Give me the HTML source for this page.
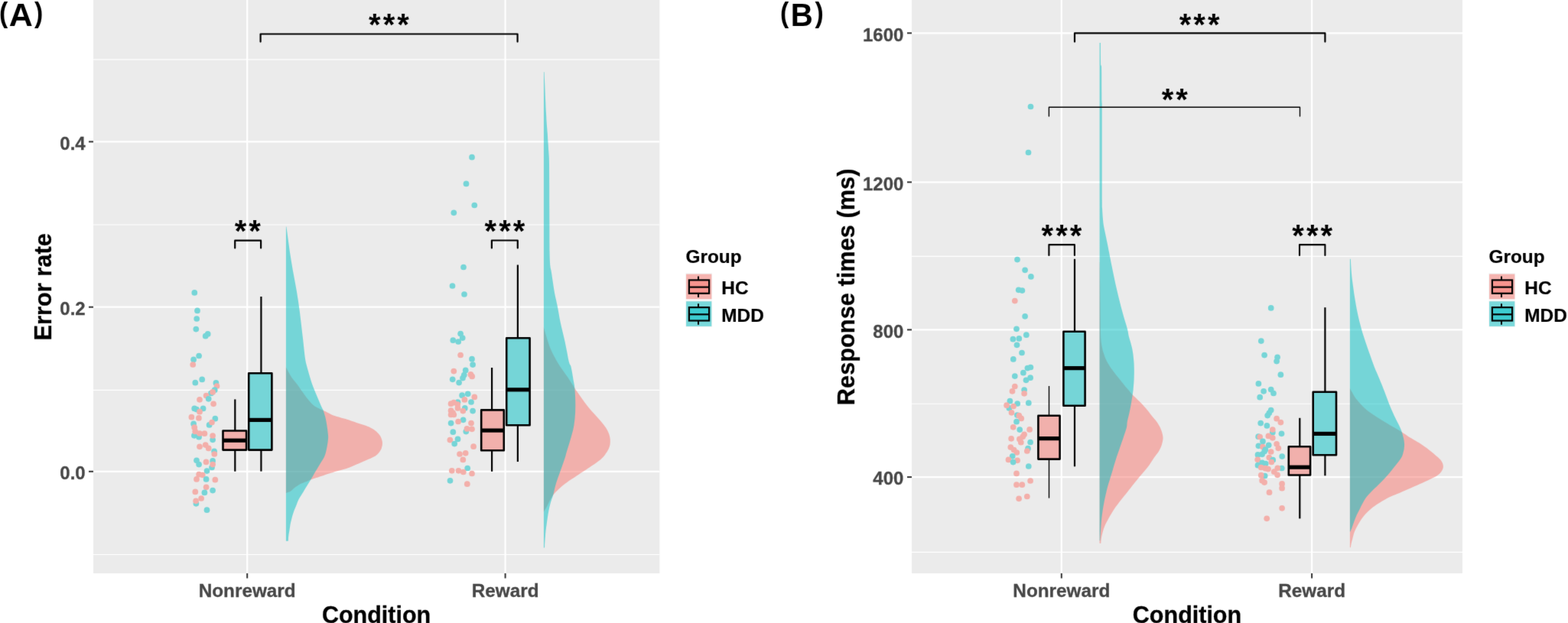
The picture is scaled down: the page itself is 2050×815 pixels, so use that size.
<!DOCTYPE html>
<html lang="en">
<head>
<meta charset="utf-8">
<title>Error rate and response times by condition and group</title>
<style>
html,body{margin:0;padding:0;background:#fff;}
body{width:2050px;height:815px;overflow:hidden;}
svg{display:block;position:absolute;left:0;top:0;}
text{font-family:"Liberation Sans",Arial,Helvetica,sans-serif;font-weight:700;}
.ax{font-size:24px;fill:#474747;stroke:#474747;stroke-width:0.3px;}
.axx{font-size:24.3px;fill:#474747;stroke:#474747;stroke-width:0.3px;}
.tt{font-size:30.5px;fill:#000;stroke:#000;stroke-width:0.3px;}
.tr{font-size:30.8px;fill:#000;stroke:#000;stroke-width:0.3px;}
.lg{font-size:24.4px;fill:#000;stroke:#000;stroke-width:0.2px;}
.st{font-size:40px;font-weight:700;fill:#000;}
.pl{font-size:40px;fill:#000;}
</style>
</head>
<body>
<svg width="2050" height="815" viewBox="0 0 2050 815">
<defs><filter id="soft" filterUnits="userSpaceOnUse" x="-20" y="-20" width="2090" height="855" color-interpolation-filters="sRGB"><feConvolveMatrix order="3" kernelMatrix="0.0064 0.0672 0.0064 0.0672 0.7056 0.0672 0.0064 0.0672 0.0064" edgeMode="duplicate" preserveAlpha="true"/></filter></defs>
<rect x="-20" y="-20" width="2090" height="855" fill="#fff"/>
<g filter="url(#soft)">
<rect x="-20" y="-20" width="2090" height="855" fill="#fff"/>
<rect x="122.00" y="-6" width="740.40" height="756" fill="#EBEBEB"/><line x1="122.00" y1="77.90" x2="862.40" y2="77.90" stroke="#fff" stroke-width="1.1"/><line x1="122.00" y1="294.00" x2="862.40" y2="294.00" stroke="#fff" stroke-width="1.1"/><line x1="122.00" y1="510.40" x2="862.40" y2="510.40" stroke="#fff" stroke-width="1.1"/><line x1="122.00" y1="725.50" x2="862.40" y2="725.50" stroke="#fff" stroke-width="1.1"/><line x1="122.00" y1="185.40" x2="862.40" y2="185.40" stroke="#fff" stroke-width="2.2"/><line x1="122.00" y1="401.70" x2="862.40" y2="401.70" stroke="#fff" stroke-width="2.2"/><line x1="122.00" y1="616.80" x2="862.40" y2="616.80" stroke="#fff" stroke-width="2.2"/><line x1="323.20" y1="-6" x2="323.20" y2="750" stroke="#fff" stroke-width="2.2"/><line x1="660.60" y1="-6" x2="660.60" y2="750" stroke="#fff" stroke-width="2.2"/><line x1="116.00" y1="185.40" x2="122.00" y2="185.40" stroke="#333" stroke-width="2"/><line x1="116.00" y1="401.70" x2="122.00" y2="401.70" stroke="#333" stroke-width="2"/><line x1="116.00" y1="616.80" x2="122.00" y2="616.80" stroke="#333" stroke-width="2"/><line x1="323.20" y1="750" x2="323.20" y2="756.5" stroke="#333" stroke-width="2"/><line x1="660.60" y1="750" x2="660.60" y2="756.5" stroke="#333" stroke-width="2"/><text x="111.70" y="195.60" class="ax" text-anchor="end">0.4</text><text x="111.70" y="411.90" class="ax" text-anchor="end">0.2</text><text x="111.70" y="627.00" class="ax" text-anchor="end">0.0</text><text x="323.20" y="781.30" class="axx" text-anchor="middle">Nonreward</text><text x="660.60" y="781.30" class="axx" text-anchor="middle">Reward</text>
<circle cx="254.3" cy="382.9" r="3.85" fill="#76D5D7"/><circle cx="258.0" cy="406.4" r="3.85" fill="#76D5D7"/><circle cx="257.2" cy="417.0" r="3.85" fill="#76D5D7"/><circle cx="256.3" cy="430.6" r="3.85" fill="#76D5D7"/><circle cx="271.7" cy="436.9" r="3.85" fill="#76D5D7"/><circle cx="268.7" cy="439.7" r="3.85" fill="#76D5D7"/><circle cx="260.1" cy="465.5" r="3.85" fill="#76D5D7"/><circle cx="253.1" cy="470.4" r="3.85" fill="#76D5D7"/><circle cx="252.2" cy="477.0" r="3.85" fill="#F3AFAA"/><circle cx="264.2" cy="496.4" r="3.85" fill="#76D5D7"/><circle cx="255.3" cy="500.7" r="3.85" fill="#76D5D7"/><circle cx="282.4" cy="500.9" r="3.85" fill="#76D5D7"/><circle cx="283.5" cy="505.0" r="3.85" fill="#F3AFAA"/><circle cx="280.7" cy="510.2" r="3.85" fill="#76D5D7"/><circle cx="276.0" cy="514.4" r="3.85" fill="#76D5D7"/><circle cx="278.1" cy="512.9" r="3.85" fill="#F3AFAA"/><circle cx="269.6" cy="517.6" r="3.85" fill="#F3AFAA"/><circle cx="272.7" cy="521.8" r="3.85" fill="#76D5D7"/><circle cx="261.0" cy="522.8" r="3.85" fill="#F3AFAA"/><circle cx="279.1" cy="528.3" r="3.85" fill="#F3AFAA"/><circle cx="254.2" cy="534.4" r="3.85" fill="#76D5D7"/><circle cx="257.0" cy="535.6" r="3.85" fill="#76D5D7"/><circle cx="265.6" cy="534.4" r="3.85" fill="#76D5D7"/><circle cx="261.0" cy="538.7" r="3.85" fill="#F3AFAA"/><circle cx="250.4" cy="545.7" r="3.85" fill="#F3AFAA"/><circle cx="259.9" cy="546.9" r="3.85" fill="#F3AFAA"/><circle cx="281.3" cy="547.7" r="3.85" fill="#76D5D7"/><circle cx="273.6" cy="555.9" r="3.85" fill="#76D5D7"/><circle cx="277.0" cy="552.5" r="3.85" fill="#F3AFAA"/><circle cx="253.1" cy="554.4" r="3.85" fill="#76D5D7"/><circle cx="254.2" cy="559.2" r="3.85" fill="#F3AFAA"/><circle cx="253.9" cy="569.8" r="3.85" fill="#76D5D7"/><circle cx="260.1" cy="571.7" r="3.85" fill="#76D5D7"/><circle cx="255.2" cy="564.4" r="3.85" fill="#F3AFAA"/><circle cx="261.0" cy="567.0" r="3.85" fill="#F3AFAA"/><circle cx="267.4" cy="567.2" r="3.85" fill="#F3AFAA"/><circle cx="278.1" cy="575.3" r="3.85" fill="#76D5D7"/><circle cx="278.1" cy="570.0" r="3.85" fill="#F3AFAA"/><circle cx="261.0" cy="584.3" r="3.85" fill="#F3AFAA"/><circle cx="268.7" cy="582.1" r="3.85" fill="#F3AFAA"/><circle cx="272.7" cy="586.4" r="3.85" fill="#F3AFAA"/><circle cx="280.1" cy="590.4" r="3.85" fill="#76D5D7"/><circle cx="280.3" cy="594.0" r="3.85" fill="#F3AFAA"/><circle cx="257.0" cy="602.3" r="3.85" fill="#76D5D7"/><circle cx="260.1" cy="607.6" r="3.85" fill="#76D5D7"/><circle cx="269.5" cy="604.4" r="3.85" fill="#F3AFAA"/><circle cx="278.1" cy="602.9" r="3.85" fill="#76D5D7"/><circle cx="277.0" cy="611.5" r="3.85" fill="#76D5D7"/><circle cx="278.1" cy="607.6" r="3.85" fill="#F3AFAA"/><circle cx="270.5" cy="616.1" r="3.85" fill="#76D5D7"/><circle cx="260.1" cy="620.7" r="3.85" fill="#F3AFAA"/><circle cx="264.7" cy="621.3" r="3.85" fill="#F3AFAA"/><circle cx="257.0" cy="626.9" r="3.85" fill="#F3AFAA"/><circle cx="269.6" cy="626.9" r="3.85" fill="#76D5D7"/><circle cx="281.3" cy="627.7" r="3.85" fill="#F3AFAA"/><circle cx="269.6" cy="637.3" r="3.85" fill="#F3AFAA"/><circle cx="278.1" cy="641.6" r="3.85" fill="#76D5D7"/><circle cx="255.3" cy="643.4" r="3.85" fill="#F3AFAA"/><circle cx="267.4" cy="644.4" r="3.85" fill="#76D5D7"/><circle cx="263.1" cy="652.0" r="3.85" fill="#F3AFAA"/><circle cx="256.4" cy="658.8" r="3.85" fill="#76D5D7"/><circle cx="256.1" cy="655.3" r="3.85" fill="#F3AFAA"/><circle cx="270.5" cy="667.2" r="3.85" fill="#76D5D7"/>
<circle cx="617.0" cy="205.7" r="3.85" fill="#76D5D7"/><circle cx="609.5" cy="240.4" r="3.85" fill="#76D5D7"/><circle cx="620.3" cy="268.5" r="3.85" fill="#76D5D7"/><circle cx="593.3" cy="278.3" r="3.85" fill="#76D5D7"/><circle cx="606.0" cy="349.5" r="3.85" fill="#76D5D7"/><circle cx="591.5" cy="374.0" r="3.85" fill="#76D5D7"/><circle cx="607.0" cy="385.0" r="3.85" fill="#76D5D7"/><circle cx="602.1" cy="436.6" r="3.85" fill="#76D5D7"/><circle cx="604.7" cy="442.1" r="3.85" fill="#76D5D7"/><circle cx="592.3" cy="445.2" r="3.85" fill="#76D5D7"/><circle cx="599.2" cy="447.0" r="3.85" fill="#76D5D7"/><circle cx="602.1" cy="464.5" r="3.85" fill="#F3AFAA"/><circle cx="617.0" cy="469.7" r="3.85" fill="#76D5D7"/><circle cx="618.1" cy="477.1" r="3.85" fill="#76D5D7"/><circle cx="593.3" cy="485.6" r="3.85" fill="#F3AFAA"/><circle cx="608.7" cy="484.4" r="3.85" fill="#76D5D7"/><circle cx="606.8" cy="490.6" r="3.85" fill="#76D5D7"/><circle cx="605.0" cy="494.6" r="3.85" fill="#76D5D7"/><circle cx="615.4" cy="489.9" r="3.85" fill="#F3AFAA"/><circle cx="617.2" cy="492.4" r="3.85" fill="#F3AFAA"/><circle cx="591.7" cy="496.3" r="3.85" fill="#76D5D7"/><circle cx="600.1" cy="500.6" r="3.85" fill="#76D5D7"/><circle cx="604.1" cy="517.2" r="3.85" fill="#76D5D7"/><circle cx="611.7" cy="515.3" r="3.85" fill="#76D5D7"/><circle cx="620.3" cy="519.4" r="3.85" fill="#F3AFAA"/><circle cx="607.4" cy="522.9" r="3.85" fill="#F3AFAA"/><circle cx="616.0" cy="526.0" r="3.85" fill="#76D5D7"/><circle cx="598.5" cy="526.2" r="3.85" fill="#76D5D7"/><circle cx="589.6" cy="528.2" r="3.85" fill="#F3AFAA"/><circle cx="593.3" cy="526.6" r="3.85" fill="#F3AFAA"/><circle cx="598.2" cy="529.0" r="3.85" fill="#F3AFAA"/><circle cx="607.8" cy="533.9" r="3.85" fill="#76D5D7"/><circle cx="598.5" cy="533.9" r="3.85" fill="#F3AFAA"/><circle cx="605.3" cy="537.6" r="3.85" fill="#F3AFAA"/><circle cx="618.1" cy="537.6" r="3.85" fill="#76D5D7"/><circle cx="589.6" cy="537.2" r="3.85" fill="#F3AFAA"/><circle cx="592.1" cy="540.1" r="3.85" fill="#F3AFAA"/><circle cx="589.6" cy="542.5" r="3.85" fill="#F3AFAA"/><circle cx="593.3" cy="542.5" r="3.85" fill="#F3AFAA"/><circle cx="605.6" cy="549.3" r="3.85" fill="#76D5D7"/><circle cx="599.1" cy="551.5" r="3.85" fill="#F3AFAA"/><circle cx="589.6" cy="553.6" r="3.85" fill="#76D5D7"/><circle cx="616.0" cy="553.6" r="3.85" fill="#F3AFAA"/><circle cx="609.3" cy="564.6" r="3.85" fill="#76D5D7"/><circle cx="610.5" cy="560.9" r="3.85" fill="#F3AFAA"/><circle cx="617.0" cy="561.3" r="3.85" fill="#F3AFAA"/><circle cx="592.3" cy="565.2" r="3.85" fill="#76D5D7"/><circle cx="598.5" cy="574.4" r="3.85" fill="#76D5D7"/><circle cx="588.4" cy="575.6" r="3.85" fill="#F3AFAA"/><circle cx="594.2" cy="580.6" r="3.85" fill="#76D5D7"/><circle cx="619.1" cy="584.2" r="3.85" fill="#F3AFAA"/><circle cx="601.0" cy="594.0" r="3.85" fill="#F3AFAA"/><circle cx="608.7" cy="592.8" r="3.85" fill="#F3AFAA"/><circle cx="605.3" cy="601.4" r="3.85" fill="#F3AFAA"/><circle cx="611.2" cy="612.5" r="3.85" fill="#76D5D7"/><circle cx="590.8" cy="615.8" r="3.85" fill="#F3AFAA"/><circle cx="599.5" cy="615.8" r="3.85" fill="#F3AFAA"/><circle cx="605.8" cy="617.5" r="3.85" fill="#F3AFAA"/><circle cx="617.0" cy="619.5" r="3.85" fill="#F3AFAA"/><circle cx="588.5" cy="628.8" r="3.85" fill="#76D5D7"/><circle cx="610.8" cy="633.2" r="3.85" fill="#F3AFAA"/>
<line x1="307.30" y1="522.40" x2="307.30" y2="563.50" stroke="#000" stroke-width="2.20"/><line x1="307.30" y1="588.60" x2="307.30" y2="616.70" stroke="#000" stroke-width="2.20"/><rect x="291.50" y="563.50" width="30.60" height="25.10" fill="#EBEBEB" stroke="none"/><rect x="291.50" y="563.50" width="30.60" height="25.10" fill="#F8766D" fill-opacity="0.5" stroke="#000" stroke-width="2.60" stroke-linejoin="round"/><line x1="291.50" y1="576.20" x2="322.10" y2="576.20" stroke="#000" stroke-width="5.20"/>
<line x1="341.40" y1="388.00" x2="341.40" y2="488.20" stroke="#000" stroke-width="2.20"/><line x1="341.40" y1="588.60" x2="341.40" y2="616.60" stroke="#000" stroke-width="2.20"/><rect x="325.20" y="488.20" width="30.20" height="100.40" fill="#EBEBEB" stroke="none"/><rect x="325.20" y="488.20" width="30.20" height="100.40" fill="#00BFC4" fill-opacity="0.5" stroke="#000" stroke-width="2.60" stroke-linejoin="round"/><line x1="325.20" y1="549.40" x2="355.40" y2="549.40" stroke="#000" stroke-width="5.20"/>
<line x1="643.10" y1="481.00" x2="643.10" y2="536.40" stroke="#000" stroke-width="2.20"/><line x1="643.10" y1="589.30" x2="643.10" y2="616.80" stroke="#000" stroke-width="2.20"/><rect x="629.20" y="536.40" width="29.60" height="52.90" fill="#EBEBEB" stroke="none"/><rect x="629.20" y="536.40" width="29.60" height="52.90" fill="#F8766D" fill-opacity="0.5" stroke="#000" stroke-width="2.60" stroke-linejoin="round"/><line x1="629.20" y1="563.10" x2="658.80" y2="563.10" stroke="#000" stroke-width="5.20"/>
<line x1="676.90" y1="346.50" x2="676.90" y2="442.20" stroke="#000" stroke-width="2.20"/><line x1="676.90" y1="556.20" x2="676.90" y2="604.00" stroke="#000" stroke-width="2.20"/><rect x="662.20" y="442.20" width="30.40" height="114.00" fill="#EBEBEB" stroke="none"/><rect x="662.20" y="442.20" width="30.40" height="114.00" fill="#00BFC4" fill-opacity="0.5" stroke="#000" stroke-width="2.60" stroke-linejoin="round"/><line x1="662.20" y1="509.80" x2="692.60" y2="509.80" stroke="#000" stroke-width="5.20"/>
<path d="M373.9 480.4L373.9 480.4L374.4 481.4L375.1 482.7L375.9 484.3L376.8 486.0L377.8 487.8L378.9 489.8L380.2 491.9L381.5 493.9L383.0 495.9L384.6 497.9L386.3 499.9L387.9 501.9L389.4 503.9L390.8 505.9L392.1 507.9L393.5 509.9L394.9 511.9L396.3 513.8L397.6 515.8L399.1 517.8L400.7 519.9L402.4 522.0L404.0 524.0L405.5 525.8L406.8 527.3L408.0 528.5L409.1 529.6L410.3 530.6L411.6 531.5L412.9 532.3L414.3 533.0L415.8 533.8L417.4 534.6L419.2 535.4L421.0 536.2L422.7 537.0L424.4 537.8L426.1 538.6L427.8 539.4L429.4 540.2L431.0 541.0L432.5 541.9L434.1 542.7L435.8 543.4L437.7 544.1L439.7 544.7L441.7 545.2L443.7 545.8L445.7 546.4L447.6 546.9L449.6 547.5L451.7 548.1L454.0 548.8L456.4 549.6L458.9 550.5L461.3 551.3L463.7 552.1L466.1 552.9L468.5 553.7L470.9 554.5L473.3 555.3L475.7 556.0L478.1 556.8L480.4 557.7L482.6 558.6L484.7 559.7L486.7 560.7L488.4 561.7L489.8 562.7L491.0 563.7L492.1 564.6L493.2 565.7L494.3 566.8L495.4 568.1L496.4 569.3L497.2 570.5L497.9 571.7L498.4 572.9L498.8 574.1L499.2 575.3L499.5 576.5L499.8 577.6L499.9 578.8L500.0 580.0L499.9 581.2L499.8 582.4L499.5 583.6L499.2 584.8L498.9 586.0L498.6 587.1L498.0 588.3L497.2 589.6L496.1 591.2L494.7 592.9L493.0 594.7L490.8 596.4L487.8 598.1L484.3 599.7L480.6 601.3L477.2 602.8L474.3 604.1L471.5 605.2L468.8 606.4L466.1 607.5L463.3 608.7L460.5 610.0L457.7 611.2L454.9 612.3L452.1 613.2L449.3 614.0L446.5 614.7L443.7 615.5L440.9 616.3L438.0 617.1L435.3 617.9L432.6 618.7L430.1 619.5L427.7 620.3L425.4 621.1L423.0 621.9L420.5 622.7L418.0 623.5L415.6 624.4L413.4 625.1L411.4 625.8L409.6 626.3L407.9 626.9L406.3 627.5L404.9 628.1L403.6 628.7L402.2 629.2L400.7 629.9L398.8 630.6L396.8 631.4L394.7 632.2L392.7 633.1L390.8 634.2L388.9 635.4L387.2 636.6L385.5 637.8L384.0 639.0L382.7 640.3L381.4 641.6L380.0 642.6L378.4 643.4L376.7 644.1L375.1 644.6L374.0 645.0L373.9 645.0 Z" fill="#F8766D" fill-opacity="0.5"/>
<path d="M373.9 296.4L374.4 296.4L375.5 304.4L377.0 315.7L378.8 328.7L380.8 341.5L382.9 353.9L385.3 366.8L387.7 380.0L389.8 393.0L391.7 406.5L393.4 420.4L394.9 433.5L396.2 444.6L397.1 453.0L397.8 459.5L398.4 464.9L399.1 470.0L400.0 474.7L401.0 478.6L402.0 482.2L403.1 486.0L404.2 490.0L405.4 494.0L406.6 497.9L407.9 501.9L409.4 505.9L410.9 509.8L412.5 513.8L414.2 517.8L416.0 522.1L417.9 526.6L419.7 530.7L421.1 533.8L421.8 535.3L422.1 535.6L422.3 535.8L422.7 537.0L423.5 539.4L424.4 542.5L425.4 546.1L426.2 549.7L426.9 553.6L427.6 557.9L428.2 562.1L428.6 565.7L428.9 568.4L429.1 570.6L429.1 572.7L428.9 575.3L428.5 578.7L427.9 582.5L427.2 586.3L426.5 589.6L425.9 592.1L425.3 594.2L424.6 596.1L423.8 598.0L422.7 600.0L421.5 602.0L420.2 604.0L419.0 606.0L417.8 608.0L416.6 610.0L415.4 611.9L414.2 613.9L413.0 615.9L411.7 618.0L410.6 620.1L409.5 621.9L408.7 623.4L408.0 624.6L407.3 625.8L406.3 627.5L404.9 629.8L403.2 632.5L401.5 635.3L399.9 637.8L398.6 640.0L397.4 641.9L396.3 643.9L395.1 645.8L393.9 647.8L392.6 649.8L391.4 651.8L390.3 653.8L389.4 655.8L388.6 657.8L387.9 659.8L387.1 661.8L386.3 663.8L385.4 665.8L384.6 667.7L383.9 669.7L383.2 671.7L382.6 673.7L382.0 675.7L381.5 677.7L381.0 679.7L380.5 681.7L380.0 683.7L379.6 685.7L379.3 687.7L379.0 689.7L378.7 691.7L378.4 693.7L378.1 695.7L377.7 697.8L377.4 699.8L377.2 701.6L377.0 703.4L376.9 705.1L376.9 706.6L376.8 707.7L373.9 707.7 Z" fill="#00BFC4" fill-opacity="0.5"/>
<path d="M710.9 428.2L710.9 428.2L711.4 430.2L712.2 433.0L713.2 436.4L714.2 439.8L715.3 443.4L716.5 447.3L717.8 451.3L719.3 455.3L721.1 459.3L723.1 463.4L725.2 467.3L727.0 470.7L728.6 473.5L730.0 475.8L731.3 477.9L732.7 480.0L734.1 482.1L735.5 484.1L736.9 486.0L738.3 488.0L739.7 489.9L741.0 491.8L742.4 493.7L743.9 496.0L745.6 498.7L747.5 501.7L749.4 504.8L751.4 507.9L753.5 511.0L755.7 514.1L757.9 517.2L759.8 519.9L761.4 522.2L762.7 524.1L764.0 525.9L765.4 527.8L766.9 529.8L768.5 531.8L770.1 533.8L771.8 535.8L773.5 537.8L775.4 539.8L777.2 541.8L779.0 543.8L780.8 545.8L782.6 547.8L784.4 549.8L786.1 551.8L787.7 553.8L789.3 555.8L790.8 557.7L792.2 559.7L793.4 561.7L794.5 563.7L795.4 565.7L796.2 567.7L796.8 569.7L797.3 571.7L797.6 573.7L797.8 575.7L797.8 577.7L797.7 579.7L797.5 581.7L797.0 583.7L796.3 585.7L795.5 587.7L794.5 589.6L793.3 591.6L791.9 593.6L790.4 595.7L788.7 597.7L786.9 599.6L784.9 601.4L782.7 603.1L780.4 604.8L778.1 606.4L775.8 608.0L773.4 609.6L771.0 611.2L768.6 612.8L766.2 614.4L763.8 615.9L761.4 617.5L759.0 619.1L756.6 620.7L754.2 622.3L751.8 623.9L749.4 625.5L747.0 627.1L744.6 628.6L742.3 630.2L739.9 631.9L737.5 633.8L735.0 635.8L732.5 637.9L730.3 639.9L728.3 641.9L726.4 643.8L724.7 645.8L723.1 647.8L721.7 649.8L720.5 651.8L719.4 653.8L718.3 655.8L717.3 657.9L716.3 659.9L715.3 662.0L714.4 663.8L713.4 665.5L712.4 667.1L711.5 668.4L710.9 669.4L710.9 669.4 Z" fill="#F8766D" fill-opacity="0.5"/>
<path d="M710.9 94.2L711.6 94.2L711.8 100.3L712.2 109.0L712.6 118.4L712.9 126.4L713.2 132.4L713.4 137.6L713.6 142.3L713.9 147.0L714.2 151.8L714.4 156.5L714.7 160.9L715.0 165.0L715.3 168.5L715.5 171.6L715.8 174.6L716.0 178.0L716.2 181.9L716.5 186.0L716.8 190.3L717.0 194.7L717.3 198.2L717.5 201.3L717.8 205.8L718.0 214.0L718.1 227.4L718.2 244.5L718.2 262.9L718.3 280.0L718.4 296.3L718.4 312.6L718.5 327.5L718.8 339.3L719.2 346.5L719.7 350.4L720.4 353.2L721.1 357.3L722.0 363.4L723.0 370.2L724.0 376.9L725.0 383.0L726.0 388.0L727.0 392.3L727.9 396.5L728.9 401.0L729.8 405.9L730.7 410.9L731.6 416.2L732.7 421.8L734.1 427.9L735.6 434.3L737.2 441.0L738.7 447.5L740.1 454.4L741.5 461.6L742.7 468.2L743.8 473.3L744.7 476.1L745.3 477.3L746.0 478.1L746.6 480.0L747.3 483.4L748.1 487.7L748.8 492.1L749.4 496.0L750.0 499.1L750.5 501.7L751.0 504.5L751.4 507.9L751.7 512.4L752.0 517.6L752.2 522.9L752.3 527.8L752.3 532.1L752.2 536.0L752.1 539.9L751.8 543.8L751.5 547.8L751.0 551.8L750.5 555.7L749.8 559.7L748.9 563.7L747.8 567.7L746.7 571.7L745.5 575.7L744.3 579.9L743.0 584.1L741.7 588.2L740.7 591.6L740.0 594.0L739.6 595.8L739.1 597.5L738.3 600.0L737.1 603.5L735.7 607.5L734.2 611.8L732.7 616.0L731.3 620.0L729.8 624.0L728.4 627.9L727.1 631.9L726.0 636.1L724.9 640.3L724.0 644.4L723.1 647.8L722.3 650.4L721.6 652.3L721.0 654.0L720.4 655.8L719.8 657.8L719.3 659.8L718.8 661.8L718.3 663.8L717.9 665.8L717.4 667.8L717.1 669.8L716.7 671.8L716.4 673.8L716.1 675.8L715.8 677.7L715.5 679.7L715.2 681.7L714.9 683.7L714.7 685.7L714.4 687.7L714.1 689.6L713.9 691.4L713.6 693.4L713.4 695.7L713.1 698.7L712.9 702.1L712.6 705.4L712.4 708.4L712.2 710.9L712.1 713.2L712.1 715.1L712.0 716.4L710.9 716.4 Z" fill="#00BFC4" fill-opacity="0.5"/>
<path d="M340.60 54.60V44.50H676.60V54.60" fill="none" stroke="#000" stroke-width="2.20" stroke-linejoin="round" stroke-linecap="round"/>
<text x="482.09 500.69 519.29" y="46.40" class="st">***</text>
<path d="M307.20 324.40V314.70H341.10V324.40" fill="none" stroke="#000" stroke-width="2.20" stroke-linejoin="round" stroke-linecap="round"/>
<text x="306.69 325.29" y="315.90" class="st">**</text>
<path d="M642.90 324.40V314.50H676.80V324.40" fill="none" stroke="#000" stroke-width="2.20" stroke-linejoin="round" stroke-linecap="round"/>
<text x="633.59 652.19 670.79" y="316.30" class="st">***</text>
<text class="tr" text-anchor="middle" transform="translate(66.9 375.4) rotate(-90) scale(1.0 1.02)">Error rate</text>
<text class="tt" text-anchor="middle" x="492.1" y="814.6">Condition</text>
<text x="896.50" y="343.6" class="lg">Group</text><rect x="896.40" y="357.40" width="34.6" height="34.6" fill="#F2F2F2"/><rect x="897.10" y="358.60" width="33.2" height="32.6" fill="#F8766D" fill-opacity="0.5"/><line x1="913.00" y1="361.60" x2="913.00" y2="389.00" stroke="#000" stroke-width="2"/><rect x="900.90" y="366.40" width="26.2" height="17.4" fill="#F2F2F2"/><rect x="900.90" y="366.40" width="26.2" height="17.4" fill="#F8766D" fill-opacity="0.75" stroke="#000" stroke-width="2.2"/><line x1="900.90" y1="375.60" x2="927.10" y2="375.60" stroke="#000" stroke-width="2.2"/><text x="943.30" y="385.40" class="lg">HC</text><rect x="896.40" y="393.10" width="34.6" height="34.6" fill="#F2F2F2"/><rect x="897.10" y="394.30" width="33.2" height="32.6" fill="#00BFC4" fill-opacity="0.5"/><line x1="913.00" y1="397.30" x2="913.00" y2="424.70" stroke="#000" stroke-width="2"/><rect x="900.90" y="402.10" width="26.2" height="17.4" fill="#F2F2F2"/><rect x="900.90" y="402.10" width="26.2" height="17.4" fill="#00BFC4" fill-opacity="0.75" stroke="#000" stroke-width="2.2"/><line x1="900.90" y1="411.30" x2="927.10" y2="411.30" stroke="#000" stroke-width="2.2"/><text x="943.30" y="420.50" class="lg">MDD</text>
<text class="pl"><tspan x="-1.09" y="29.11" font-size="37.26" textLength="11.25" lengthAdjust="spacingAndGlyphs">(</tspan><tspan x="11.72" y="33.80" font-size="41.90" textLength="31.10" lengthAdjust="spacingAndGlyphs">A</tspan><tspan x="45.00" y="29.11" font-size="37.26" textLength="11.25" lengthAdjust="spacingAndGlyphs">)</tspan></text>
<rect x="1192.00" y="-6" width="720.00" height="756" fill="#EBEBEB"/><line x1="1192.00" y1="335.40" x2="1912.00" y2="335.40" stroke="#fff" stroke-width="1.1"/><line x1="1192.00" y1="528.30" x2="1912.00" y2="528.30" stroke="#fff" stroke-width="1.1"/><line x1="1192.00" y1="722.40" x2="1912.00" y2="722.40" stroke="#fff" stroke-width="1.1"/><line x1="1192.00" y1="43.30" x2="1912.00" y2="43.30" stroke="#fff" stroke-width="2.2"/><line x1="1192.00" y1="238.30" x2="1912.00" y2="238.30" stroke="#fff" stroke-width="2.2"/><line x1="1192.00" y1="431.40" x2="1912.00" y2="431.40" stroke="#fff" stroke-width="2.2"/><line x1="1192.00" y1="624.10" x2="1912.00" y2="624.10" stroke="#fff" stroke-width="2.2"/><line x1="1387.80" y1="-6" x2="1387.80" y2="750" stroke="#fff" stroke-width="2.2"/><line x1="1715.10" y1="-6" x2="1715.10" y2="750" stroke="#fff" stroke-width="2.2"/><line x1="1186.00" y1="43.30" x2="1192.00" y2="43.30" stroke="#333" stroke-width="2"/><line x1="1186.00" y1="238.30" x2="1192.00" y2="238.30" stroke="#333" stroke-width="2"/><line x1="1186.00" y1="431.40" x2="1192.00" y2="431.40" stroke="#333" stroke-width="2"/><line x1="1186.00" y1="624.10" x2="1192.00" y2="624.10" stroke="#333" stroke-width="2"/><line x1="1387.80" y1="750" x2="1387.80" y2="756.5" stroke="#333" stroke-width="2"/><line x1="1715.10" y1="750" x2="1715.10" y2="756.5" stroke="#333" stroke-width="2"/><text x="1181.40" y="53.50" class="ax" text-anchor="end">1600</text><text x="1181.40" y="248.50" class="ax" text-anchor="end">1200</text><text x="1181.40" y="441.60" class="ax" text-anchor="end">800</text><text x="1181.40" y="634.30" class="ax" text-anchor="end">400</text><text x="1387.80" y="781.30" class="axx" text-anchor="middle">Nonreward</text><text x="1715.10" y="781.30" class="axx" text-anchor="middle">Reward</text>
<circle cx="1347.5" cy="139.5" r="3.85" fill="#76D5D7"/><circle cx="1344.5" cy="199.5" r="3.85" fill="#76D5D7"/><circle cx="1330.0" cy="339.6" r="3.85" fill="#76D5D7"/><circle cx="1340.1" cy="353.3" r="3.85" fill="#76D5D7"/><circle cx="1347.9" cy="361.9" r="3.85" fill="#76D5D7"/><circle cx="1331.7" cy="379.3" r="3.85" fill="#76D5D7"/><circle cx="1336.4" cy="380.1" r="3.85" fill="#76D5D7"/><circle cx="1326.8" cy="393.6" r="3.85" fill="#F3AFAA"/><circle cx="1340.1" cy="413.8" r="3.85" fill="#76D5D7"/><circle cx="1329.0" cy="430.3" r="3.85" fill="#76D5D7"/><circle cx="1341.8" cy="438.2" r="3.85" fill="#76D5D7"/><circle cx="1324.4" cy="443.7" r="3.85" fill="#76D5D7"/><circle cx="1332.3" cy="442.9" r="3.85" fill="#76D5D7"/><circle cx="1329.5" cy="451.3" r="3.85" fill="#76D5D7"/><circle cx="1336.0" cy="461.5" r="3.85" fill="#76D5D7"/><circle cx="1324.8" cy="469.9" r="3.85" fill="#76D5D7"/><circle cx="1343.4" cy="481.6" r="3.85" fill="#76D5D7"/><circle cx="1347.4" cy="480.5" r="3.85" fill="#76D5D7"/><circle cx="1337.9" cy="487.7" r="3.85" fill="#76D5D7"/><circle cx="1326.8" cy="492.1" r="3.85" fill="#76D5D7"/><circle cx="1341.5" cy="497.3" r="3.85" fill="#76D5D7"/><circle cx="1347.1" cy="494.2" r="3.85" fill="#76D5D7"/><circle cx="1326.8" cy="505.5" r="3.85" fill="#F3AFAA"/><circle cx="1323.5" cy="511.8" r="3.85" fill="#F3AFAA"/><circle cx="1339.1" cy="510.0" r="3.85" fill="#76D5D7"/><circle cx="1339.1" cy="514.8" r="3.85" fill="#F3AFAA"/><circle cx="1320.4" cy="524.7" r="3.85" fill="#76D5D7"/><circle cx="1330.2" cy="528.0" r="3.85" fill="#76D5D7"/><circle cx="1344.8" cy="527.2" r="3.85" fill="#76D5D7"/><circle cx="1319.4" cy="533.9" r="3.85" fill="#76D5D7"/><circle cx="1316.1" cy="530.2" r="3.85" fill="#F3AFAA"/><circle cx="1325.0" cy="531.5" r="3.85" fill="#F3AFAA"/><circle cx="1322.5" cy="539.8" r="3.85" fill="#F3AFAA"/><circle cx="1329.9" cy="543.1" r="3.85" fill="#76D5D7"/><circle cx="1332.3" cy="543.7" r="3.85" fill="#F3AFAA"/><circle cx="1335.2" cy="547.4" r="3.85" fill="#F3AFAA"/><circle cx="1329.0" cy="551.7" r="3.85" fill="#76D5D7"/><circle cx="1324.7" cy="558.8" r="3.85" fill="#F3AFAA"/><circle cx="1333.2" cy="562.1" r="3.85" fill="#76D5D7"/><circle cx="1346.1" cy="561.9" r="3.85" fill="#F3AFAA"/><circle cx="1339.1" cy="568.3" r="3.85" fill="#F3AFAA"/><circle cx="1337.2" cy="571.3" r="3.85" fill="#F3AFAA"/><circle cx="1322.1" cy="573.8" r="3.85" fill="#F3AFAA"/><circle cx="1332.9" cy="574.4" r="3.85" fill="#F3AFAA"/><circle cx="1334.8" cy="578.7" r="3.85" fill="#F3AFAA"/><circle cx="1347.1" cy="578.5" r="3.85" fill="#76D5D7"/><circle cx="1321.3" cy="585.1" r="3.85" fill="#F3AFAA"/><circle cx="1325.6" cy="588.5" r="3.85" fill="#F3AFAA"/><circle cx="1329.3" cy="592.0" r="3.85" fill="#F3AFAA"/><circle cx="1344.0" cy="586.7" r="3.85" fill="#76D5D7"/><circle cx="1342.8" cy="590.0" r="3.85" fill="#F3AFAA"/><circle cx="1323.7" cy="596.8" r="3.85" fill="#76D5D7"/><circle cx="1318.5" cy="601.4" r="3.85" fill="#F3AFAA"/><circle cx="1330.1" cy="602.3" r="3.85" fill="#F3AFAA"/><circle cx="1324.6" cy="604.6" r="3.85" fill="#76D5D7"/><circle cx="1344.8" cy="610.0" r="3.85" fill="#76D5D7"/><circle cx="1329.0" cy="619.4" r="3.85" fill="#F3AFAA"/><circle cx="1347.1" cy="629.0" r="3.85" fill="#F3AFAA"/><circle cx="1329.0" cy="634.2" r="3.85" fill="#F3AFAA"/><circle cx="1336.3" cy="634.2" r="3.85" fill="#F3AFAA"/><circle cx="1342.8" cy="649.5" r="3.85" fill="#F3AFAA"/><circle cx="1332.1" cy="652.3" r="3.85" fill="#F3AFAA"/>
<circle cx="1661.7" cy="402.9" r="3.85" fill="#76D5D7"/><circle cx="1648.8" cy="446.1" r="3.85" fill="#76D5D7"/><circle cx="1653.1" cy="464.6" r="3.85" fill="#76D5D7"/><circle cx="1670.1" cy="467.3" r="3.85" fill="#76D5D7"/><circle cx="1669.1" cy="472.6" r="3.85" fill="#76D5D7"/><circle cx="1674.4" cy="490.2" r="3.85" fill="#76D5D7"/><circle cx="1645.4" cy="501.9" r="3.85" fill="#76D5D7"/><circle cx="1652.1" cy="511.8" r="3.85" fill="#76D5D7"/><circle cx="1661.7" cy="509.6" r="3.85" fill="#76D5D7"/><circle cx="1665.0" cy="514.5" r="3.85" fill="#76D5D7"/><circle cx="1647.2" cy="519.7" r="3.85" fill="#76D5D7"/><circle cx="1661.7" cy="536.6" r="3.85" fill="#76D5D7"/><circle cx="1659.3" cy="540.3" r="3.85" fill="#76D5D7"/><circle cx="1657.2" cy="543.6" r="3.85" fill="#76D5D7"/><circle cx="1669.1" cy="547.7" r="3.85" fill="#F3AFAA"/><circle cx="1674.4" cy="552.6" r="3.85" fill="#F3AFAA"/><circle cx="1648.2" cy="553.6" r="3.85" fill="#76D5D7"/><circle cx="1656.4" cy="556.9" r="3.85" fill="#76D5D7"/><circle cx="1663.8" cy="565.7" r="3.85" fill="#76D5D7"/><circle cx="1663.8" cy="562.0" r="3.85" fill="#F3AFAA"/><circle cx="1675.5" cy="567.3" r="3.85" fill="#76D5D7"/><circle cx="1645.2" cy="571.2" r="3.85" fill="#76D5D7"/><circle cx="1647.2" cy="571.6" r="3.85" fill="#F3AFAA"/><circle cx="1658.4" cy="570.4" r="3.85" fill="#F3AFAA"/><circle cx="1663.8" cy="572.8" r="3.85" fill="#F3AFAA"/><circle cx="1651.0" cy="577.4" r="3.85" fill="#76D5D7"/><circle cx="1669.1" cy="580.8" r="3.85" fill="#F3AFAA"/><circle cx="1645.4" cy="583.3" r="3.85" fill="#76D5D7"/><circle cx="1658.7" cy="582.3" r="3.85" fill="#76D5D7"/><circle cx="1651.0" cy="584.5" r="3.85" fill="#F3AFAA"/><circle cx="1671.3" cy="586.3" r="3.85" fill="#F3AFAA"/><circle cx="1654.4" cy="588.2" r="3.85" fill="#76D5D7"/><circle cx="1653.1" cy="590.6" r="3.85" fill="#76D5D7"/><circle cx="1644.5" cy="594.9" r="3.85" fill="#76D5D7"/><circle cx="1650.1" cy="594.3" r="3.85" fill="#76D5D7"/><circle cx="1661.7" cy="591.0" r="3.85" fill="#F3AFAA"/><circle cx="1659.3" cy="598.6" r="3.85" fill="#F3AFAA"/><circle cx="1644.2" cy="601.3" r="3.85" fill="#F3AFAA"/><circle cx="1676.2" cy="597.1" r="3.85" fill="#76D5D7"/><circle cx="1664.2" cy="601.7" r="3.85" fill="#76D5D7"/><circle cx="1662.3" cy="604.5" r="3.85" fill="#F3AFAA"/><circle cx="1650.1" cy="605.3" r="3.85" fill="#76D5D7"/><circle cx="1654.7" cy="606.6" r="3.85" fill="#76D5D7"/><circle cx="1644.5" cy="608.7" r="3.85" fill="#76D5D7"/><circle cx="1648.8" cy="611.5" r="3.85" fill="#F3AFAA"/><circle cx="1654.4" cy="612.7" r="3.85" fill="#F3AFAA"/><circle cx="1658.0" cy="613.6" r="3.85" fill="#F3AFAA"/><circle cx="1675.8" cy="612.5" r="3.85" fill="#76D5D7"/><circle cx="1670.3" cy="612.3" r="3.85" fill="#F3AFAA"/><circle cx="1665.8" cy="617.2" r="3.85" fill="#F3AFAA"/><circle cx="1670.1" cy="621.3" r="3.85" fill="#F3AFAA"/><circle cx="1653.7" cy="622.5" r="3.85" fill="#76D5D7"/><circle cx="1648.8" cy="621.7" r="3.85" fill="#F3AFAA"/><circle cx="1650.1" cy="628.7" r="3.85" fill="#F3AFAA"/><circle cx="1653.1" cy="631.1" r="3.85" fill="#F3AFAA"/><circle cx="1676.1" cy="632.9" r="3.85" fill="#F3AFAA"/><circle cx="1676.1" cy="638.7" r="3.85" fill="#F3AFAA"/><circle cx="1659.5" cy="644.2" r="3.85" fill="#F3AFAA"/><circle cx="1676.1" cy="664.8" r="3.85" fill="#F3AFAA"/><circle cx="1656.2" cy="678.3" r="3.85" fill="#F3AFAA"/>
<line x1="1371.50" y1="505.00" x2="1371.50" y2="543.80" stroke="#000" stroke-width="1.40"/><line x1="1371.50" y1="600.60" x2="1371.50" y2="651.60" stroke="#000" stroke-width="1.40"/><rect x="1357.40" y="543.80" width="28.20" height="56.80" fill="#EBEBEB" stroke="none"/><rect x="1357.40" y="543.80" width="28.20" height="56.80" fill="#F8766D" fill-opacity="0.5" stroke="#000" stroke-width="2.60" stroke-linejoin="round"/><line x1="1357.40" y1="573.60" x2="1385.60" y2="573.60" stroke="#000" stroke-width="5.20"/>
<line x1="1405.00" y1="338.80" x2="1405.00" y2="433.70" stroke="#000" stroke-width="2.20"/><line x1="1405.00" y1="530.80" x2="1405.00" y2="610.30" stroke="#000" stroke-width="2.20"/><rect x="1390.40" y="433.70" width="28.20" height="97.10" fill="#EBEBEB" stroke="none"/><rect x="1390.40" y="433.70" width="28.20" height="97.10" fill="#00BFC4" fill-opacity="0.5" stroke="#000" stroke-width="2.60" stroke-linejoin="round"/><line x1="1390.40" y1="481.60" x2="1418.60" y2="481.60" stroke="#000" stroke-width="5.20"/>
<line x1="1699.30" y1="546.80" x2="1699.30" y2="584.20" stroke="#000" stroke-width="2.20"/><line x1="1699.30" y1="621.50" x2="1699.30" y2="678.40" stroke="#000" stroke-width="2.20"/><rect x="1684.80" y="584.20" width="28.30" height="37.30" fill="#EBEBEB" stroke="none"/><rect x="1684.80" y="584.20" width="28.30" height="37.30" fill="#F8766D" fill-opacity="0.5" stroke="#000" stroke-width="2.60" stroke-linejoin="round"/><line x1="1684.80" y1="611.20" x2="1713.10" y2="611.20" stroke="#000" stroke-width="5.20"/>
<line x1="1732.40" y1="402.20" x2="1732.40" y2="512.80" stroke="#000" stroke-width="2.20"/><line x1="1732.40" y1="595.20" x2="1732.40" y2="622.30" stroke="#000" stroke-width="2.20"/><rect x="1716.70" y="512.80" width="30.30" height="82.40" fill="#EBEBEB" stroke="none"/><rect x="1716.70" y="512.80" width="30.30" height="82.40" fill="#00BFC4" fill-opacity="0.5" stroke="#000" stroke-width="2.60" stroke-linejoin="round"/><line x1="1716.70" y1="567.40" x2="1747.00" y2="567.40" stroke="#000" stroke-width="5.20"/>
<path d="M1437.6 343.0L1437.8 343.0L1438.0 353.6L1438.2 369.0L1438.4 385.6L1438.6 400.0L1438.7 411.8L1438.8 422.6L1438.9 432.1L1439.1 440.0L1439.5 445.9L1440.0 450.0L1440.6 453.1L1441.2 456.0L1441.7 458.5L1442.3 460.4L1442.9 462.1L1443.5 463.9L1444.2 465.9L1444.9 467.9L1445.8 469.9L1446.7 471.9L1447.8 473.9L1449.0 475.9L1450.2 477.9L1451.5 479.9L1452.8 481.9L1454.2 483.8L1455.6 485.8L1457.1 487.8L1458.6 489.8L1460.2 491.8L1461.9 493.8L1463.5 495.8L1465.1 497.8L1466.7 499.8L1468.3 501.8L1469.9 503.8L1471.6 505.9L1473.5 508.0L1475.2 510.0L1476.7 511.8L1477.8 513.2L1478.7 514.3L1479.6 515.4L1480.7 516.6L1482.2 518.1L1483.9 519.6L1485.7 521.3L1487.4 522.9L1489.0 524.5L1490.7 526.1L1492.3 527.7L1493.8 529.3L1495.2 530.9L1496.6 532.4L1498.0 534.0L1499.4 535.7L1500.9 537.6L1502.5 539.6L1504.1 541.7L1505.7 543.7L1507.3 545.7L1509.0 547.7L1510.6 549.6L1512.1 551.6L1513.5 553.6L1514.7 555.6L1515.9 557.6L1516.9 559.6L1517.8 561.7L1518.6 563.8L1519.3 565.9L1519.8 567.9L1520.2 569.7L1520.4 571.3L1520.5 572.9L1520.4 574.7L1520.1 576.8L1519.6 579.1L1519.0 581.4L1518.3 583.6L1517.5 585.6L1516.5 587.6L1515.5 589.5L1514.3 591.4L1513.0 593.3L1511.6 595.1L1510.1 597.1L1508.5 599.3L1506.7 601.9L1504.9 604.8L1502.8 607.9L1500.6 611.0L1498.1 614.1L1495.4 617.2L1492.6 620.4L1489.8 623.8L1486.8 627.5L1483.7 631.3L1480.7 635.1L1478.0 638.5L1475.8 641.3L1473.9 643.7L1472.1 646.0L1470.2 648.3L1468.2 650.8L1466.2 653.2L1464.2 655.7L1462.3 658.2L1460.5 660.7L1458.7 663.1L1457.0 665.6L1455.4 668.0L1453.9 670.5L1452.4 672.9L1451.0 675.3L1449.6 677.8L1448.3 680.2L1446.9 682.7L1445.7 685.1L1444.6 687.6L1443.6 690.1L1442.7 692.6L1442.0 695.1L1441.3 697.4L1440.8 699.6L1440.3 701.6L1440.0 703.5L1439.7 705.3L1439.5 707.0L1439.4 708.5L1439.3 709.9L1439.3 710.8L1437.6 710.8 Z" fill="#F8766D" fill-opacity="0.5"/>
<path d="M1437.6 56.0L1438.9 56.0L1438.9 61.8L1438.9 70.3L1439.0 78.9L1439.1 85.0L1439.3 86.6L1439.6 85.4L1439.9 84.8L1440.1 88.0L1440.2 97.5L1440.2 111.0L1440.3 124.5L1440.3 134.0L1440.4 135.4L1440.5 131.9L1440.6 130.2L1440.7 137.0L1440.7 157.5L1440.7 186.9L1440.7 217.2L1440.7 240.0L1440.7 252.8L1440.7 260.1L1440.8 264.3L1440.8 268.0L1440.8 270.8L1440.9 271.7L1441.0 272.3L1441.1 274.1L1441.3 277.8L1441.6 282.4L1442.0 287.3L1442.4 291.6L1442.9 295.0L1443.5 298.1L1444.1 301.0L1444.8 304.2L1445.5 307.8L1446.3 311.6L1447.1 315.4L1447.9 319.2L1448.6 322.8L1449.3 326.4L1450.0 330.1L1450.8 334.2L1451.7 338.7L1452.6 343.6L1453.7 348.7L1454.8 354.2L1456.0 360.0L1457.3 366.2L1458.7 372.7L1460.2 379.3L1461.9 386.4L1463.7 393.8L1465.6 401.2L1467.4 408.0L1469.2 414.4L1471.0 420.6L1472.7 426.1L1474.0 430.7L1474.7 433.8L1475.0 435.8L1475.3 437.5L1475.8 440.0L1476.8 443.5L1478.0 447.6L1479.2 451.9L1480.2 456.0L1480.9 460.0L1481.5 464.0L1481.9 467.9L1482.3 471.9L1482.6 475.9L1482.7 479.8L1482.8 483.8L1482.8 487.8L1482.7 491.9L1482.6 496.0L1482.4 500.0L1482.1 503.8L1481.8 507.1L1481.6 510.0L1481.2 513.0L1480.7 516.6L1480.0 521.0L1479.2 526.0L1478.3 531.0L1477.4 535.7L1476.5 540.1L1475.5 544.3L1474.5 548.2L1473.8 551.6L1473.5 554.0L1473.4 555.6L1473.3 557.3L1472.7 560.0L1471.5 564.1L1469.8 569.1L1468.0 574.4L1466.2 579.6L1464.5 584.5L1462.8 589.5L1461.0 594.4L1459.4 599.3L1457.9 604.2L1456.4 609.1L1455.0 614.0L1453.5 618.9L1452.0 623.8L1450.5 628.7L1449.0 633.6L1447.6 638.5L1446.4 643.4L1445.3 648.4L1444.2 653.3L1443.3 658.2L1442.4 663.1L1441.6 668.0L1440.9 672.9L1440.3 677.8L1439.8 682.9L1439.4 688.2L1439.1 693.2L1438.8 697.4L1438.6 700.8L1438.4 703.5L1438.3 705.7L1438.2 707.2L1437.6 707.2 Z" fill="#00BFC4" fill-opacity="0.5"/>
<path d="M1764.9 507.9L1764.9 507.9L1765.2 508.5L1765.7 509.4L1766.2 510.5L1767.0 511.9L1768.0 513.6L1769.1 515.7L1770.3 517.8L1771.7 519.9L1773.1 521.9L1774.7 523.8L1776.3 525.8L1778.1 527.8L1779.9 529.8L1781.8 531.8L1783.8 533.8L1786.1 535.8L1788.6 537.8L1791.4 539.8L1794.3 541.8L1797.3 543.8L1800.3 545.8L1803.5 547.8L1806.7 549.8L1810.0 551.8L1813.4 553.8L1817.0 555.9L1820.5 557.9L1823.6 559.7L1826.2 561.3L1828.5 562.6L1830.7 564.0L1832.8 565.3L1834.9 566.7L1837.0 568.1L1839.1 569.6L1841.1 570.9L1843.1 572.2L1845.1 573.3L1847.1 574.5L1849.1 575.7L1851.0 576.8L1852.9 577.9L1854.9 579.1L1857.1 580.5L1859.7 582.3L1862.5 584.2L1865.5 586.3L1868.2 588.4L1870.8 590.4L1873.3 592.5L1875.6 594.5L1877.8 596.4L1879.8 598.1L1881.5 599.8L1883.1 601.3L1884.4 603.0L1885.4 604.8L1886.2 606.6L1886.7 608.4L1886.9 610.2L1886.7 612.0L1886.1 613.9L1885.3 615.6L1884.2 617.3L1883.0 618.8L1881.5 620.2L1879.8 621.5L1877.8 622.9L1875.4 624.3L1872.7 625.6L1869.7 627.0L1866.6 628.5L1863.2 630.0L1859.6 631.7L1856.0 633.3L1852.3 634.9L1848.6 636.5L1844.9 638.2L1841.3 639.8L1837.9 641.3L1834.9 642.6L1832.2 643.7L1829.5 644.9L1826.8 646.0L1824.0 647.2L1821.2 648.3L1818.4 649.5L1815.6 650.8L1812.8 652.3L1809.9 653.9L1807.1 655.6L1804.4 657.2L1801.9 658.8L1799.5 660.3L1797.2 661.9L1794.9 663.6L1792.6 665.5L1790.3 667.5L1788.1 669.6L1786.1 671.6L1784.3 673.6L1782.7 675.6L1781.1 677.5L1779.7 679.5L1778.4 681.5L1777.2 683.5L1776.0 685.5L1774.9 687.5L1773.8 689.5L1772.7 691.5L1771.8 693.5L1770.9 695.5L1770.2 697.5L1769.6 699.5L1769.1 701.4L1768.6 703.4L1768.1 705.5L1767.5 707.6L1767.0 709.6L1766.6 711.4L1766.3 712.9L1766.1 714.3L1765.9 715.4L1765.8 716.2L1764.9 716.2 Z" fill="#F8766D" fill-opacity="0.5"/>
<path d="M1764.9 338.8L1765.8 338.8L1766.0 341.9L1766.2 346.3L1766.5 351.1L1766.8 355.5L1767.1 359.0L1767.4 362.2L1767.8 365.5L1768.3 369.3L1768.9 373.8L1769.6 378.7L1770.3 383.9L1771.1 388.9L1771.9 393.7L1772.7 398.5L1773.6 403.4L1774.6 408.5L1775.8 414.1L1777.2 420.0L1778.7 425.8L1780.1 431.1L1781.4 435.6L1782.7 439.6L1784.0 443.6L1785.4 447.8L1787.1 452.7L1788.9 457.9L1790.7 462.9L1792.3 467.4L1793.5 471.0L1794.6 473.9L1795.6 476.8L1796.8 480.0L1798.3 483.8L1800.1 487.8L1801.9 491.9L1803.6 496.0L1805.2 500.0L1806.9 504.0L1808.4 507.9L1810.0 511.9L1811.5 515.9L1812.9 519.8L1814.4 523.8L1815.9 527.8L1817.6 531.9L1819.3 536.0L1821.1 540.0L1822.8 543.8L1824.5 547.3L1826.2 550.7L1827.8 553.8L1829.2 556.6L1830.3 559.0L1831.2 561.1L1832.0 563.1L1832.8 565.3L1833.6 567.8L1834.3 570.5L1835.0 573.2L1835.5 575.7L1835.8 577.9L1836.0 579.9L1836.1 581.8L1836.0 583.7L1835.8 585.7L1835.6 587.7L1835.2 589.6L1834.7 591.6L1834.2 593.5L1833.6 595.4L1832.8 597.4L1831.6 599.6L1829.7 602.3L1827.4 605.3L1825.0 608.3L1822.8 611.0L1821.0 613.2L1819.5 615.2L1818.0 617.0L1816.4 618.9L1814.7 620.9L1812.9 622.9L1811.1 624.9L1809.2 626.9L1807.3 628.9L1805.3 630.9L1803.3 632.9L1801.3 634.9L1799.3 636.9L1797.3 638.8L1795.2 640.8L1793.3 642.8L1791.4 644.8L1789.5 646.8L1787.7 648.8L1786.1 650.8L1784.7 652.8L1783.5 654.8L1782.4 656.8L1781.3 658.8L1780.2 660.8L1779.2 662.8L1778.3 664.8L1777.3 666.8L1776.3 668.8L1775.2 670.8L1774.2 672.7L1773.3 674.7L1772.5 676.7L1771.7 678.7L1770.9 680.7L1770.2 682.7L1769.5 684.8L1768.7 686.9L1768.0 688.9L1767.4 690.7L1766.8 692.2L1766.2 693.6L1765.7 694.7L1765.4 695.5L1764.9 695.5 Z" fill="#00BFC4" fill-opacity="0.5"/>
<path d="M1405.00 54.60V43.30H1732.40V54.60" fill="none" stroke="#000" stroke-width="2.20" stroke-linejoin="round" stroke-linecap="round"/>
<text x="1541.69 1560.29 1578.89" y="46.30" class="st">***</text>
<path d="M1371.40 152.00V140.20H1699.50V152.00" fill="none" stroke="#000" stroke-width="1.40" stroke-linejoin="round" stroke-linecap="round"/>
<text x="1518.69 1537.29" y="143.50" class="st">**</text>
<path d="M1371.40 334.00V320.10H1404.90V334.00" fill="none" stroke="#000" stroke-width="2.10" stroke-linejoin="round" stroke-linecap="round"/>
<text x="1361.59 1380.19 1398.79" y="321.80" class="st">***</text>
<path d="M1699.00 334.00V320.10H1732.40V334.00" fill="none" stroke="#000" stroke-width="2.10" stroke-linejoin="round" stroke-linecap="round"/>
<text x="1689.29 1707.89 1726.49" y="321.80" class="st">***</text>
<text class="tr" text-anchor="middle" transform="translate(1116.9 375.4) rotate(-90) scale(1.0 1.02)">Response times (ms)</text>
<text class="tt" text-anchor="middle" x="1552" y="814.6">Condition</text>
<text x="1946.50" y="343.6" class="lg">Group</text><rect x="1946.40" y="357.40" width="34.6" height="34.6" fill="#F2F2F2"/><rect x="1947.10" y="358.60" width="33.2" height="32.6" fill="#F8766D" fill-opacity="0.5"/><line x1="1963.00" y1="361.60" x2="1963.00" y2="389.00" stroke="#000" stroke-width="2"/><rect x="1950.90" y="366.40" width="26.2" height="17.4" fill="#F2F2F2"/><rect x="1950.90" y="366.40" width="26.2" height="17.4" fill="#F8766D" fill-opacity="0.75" stroke="#000" stroke-width="2.2"/><line x1="1950.90" y1="375.60" x2="1977.10" y2="375.60" stroke="#000" stroke-width="2.2"/><text x="1993.30" y="385.40" class="lg">HC</text><rect x="1946.40" y="393.10" width="34.6" height="34.6" fill="#F2F2F2"/><rect x="1947.10" y="394.30" width="33.2" height="32.6" fill="#00BFC4" fill-opacity="0.5"/><line x1="1963.00" y1="397.30" x2="1963.00" y2="424.70" stroke="#000" stroke-width="2"/><rect x="1950.90" y="402.10" width="26.2" height="17.4" fill="#F2F2F2"/><rect x="1950.90" y="402.10" width="26.2" height="17.4" fill="#00BFC4" fill-opacity="0.75" stroke="#000" stroke-width="2.2"/><line x1="1950.90" y1="411.30" x2="1977.10" y2="411.30" stroke="#000" stroke-width="2.2"/><text x="1993.30" y="420.50" class="lg">MDD</text>
<text class="pl"><tspan x="1019.91" y="29.11" font-size="37.26" textLength="11.25" lengthAdjust="spacingAndGlyphs">(</tspan><tspan x="1033.83" y="33.80" font-size="41.90" textLength="29.07" lengthAdjust="spacingAndGlyphs">B</tspan><tspan x="1065.60" y="29.11" font-size="37.26" textLength="11.25" lengthAdjust="spacingAndGlyphs">)</tspan></text>
</g>
</svg>
</body>
</html>
